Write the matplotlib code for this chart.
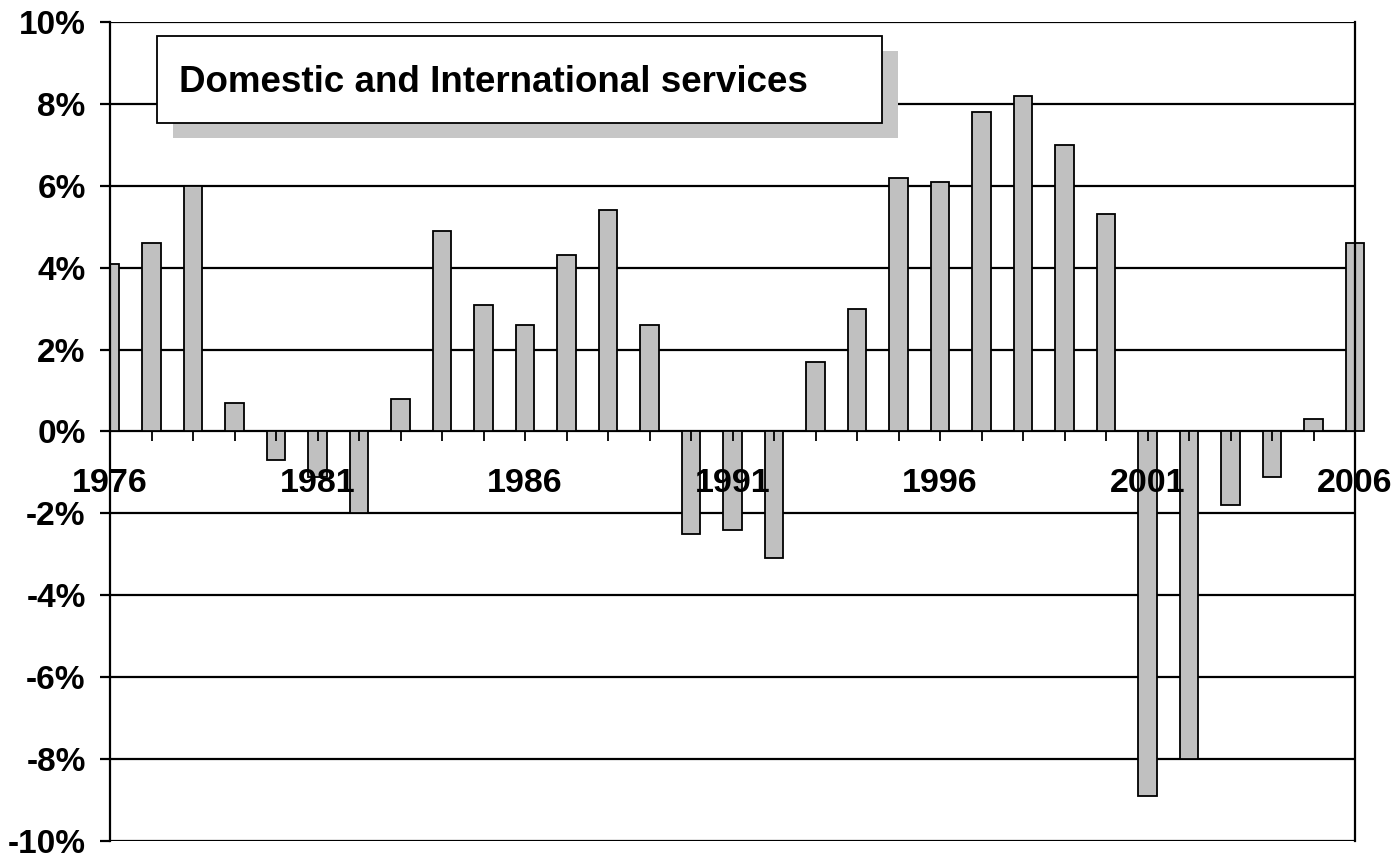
import numpy as np
import matplotlib
matplotlib.use("Agg")
import matplotlib.pyplot as plt
from matplotlib.patches import Rectangle
from matplotlib.ticker import MultipleLocator, FixedLocator, FuncFormatter

# annual growth, %
years = list(range(1976, 2007))
growth = [4.1, 4.6, 6.0, 0.7, -0.7, -1.1, -2.0, 0.8, 4.9, 3.1,
          2.6, 4.3, 5.4, 2.6, -2.5, -2.4, -3.1, 1.7, 3.0, 6.2,
          6.1, 7.8, 8.2, 7.0, 5.3, -8.9, -8.0, -1.8, -1.1, 0.3,
          4.6]
label_years = years[::5]
title = "Domestic and International services"

plt.rcParams['font.family'] = ['Liberation Sans', 'DejaVu Sans']
plt.rcParams['font.weight'] = 'bold'

fig = plt.figure(figsize=(13.95, 8.58), dpi=100)
ax = fig.add_axes([110/1395, 1-841/858, 1245/1395, 819/858])

ax.set_xlim(years[0], years[-1])
ax.set_ylim(-10, 10)

# gridlines behind the bars
for v in np.arange(-10, 11, 2):
    ax.axhline(v, color='black', lw=1.6, zorder=0)

bars = ax.bar(years, growth, width=0.44, color='#c0c0c0',
              edgecolor='black', linewidth=1.3, zorder=1)
bars[-1].set_clip_on(False)

# axis at zero with the year labels
ax.spines['top'].set_visible(False)
ax.spines['bottom'].set_position(('data', 0))
ax.spines['bottom'].set_visible(False)
for s in ['left', 'right']:
    ax.spines[s].set_linewidth(1.6)

ax.xaxis.set_major_locator(FixedLocator(label_years))
ax.xaxis.set_minor_locator(MultipleLocator(1))
ax.xaxis.set_major_formatter(FuncFormatter(lambda v, p: f"{int(round(v))}"))
ax.tick_params(axis='x', which='both', direction='out', length=7.5, width=1.3,
               labelsize=24.5, pad=19)
ax.yaxis.set_major_locator(MultipleLocator(2))
ax.yaxis.set_major_formatter(FuncFormatter(lambda v, p: f"{int(round(v))}%"))
ax.tick_params(axis='y', direction='out', length=7.5, width=1.6,
               labelsize=24, pad=10)
ax.set_axisbelow(False)

# title box with shadow
shadow = Rectangle((173/1395, 1-138/858), 725/1395, 87/858,
                   transform=fig.transFigure, facecolor='#c6c6c6',
                   edgecolor='none', zorder=5)
box = Rectangle((157/1395, 1-123/858), 725/1395, 87/858,
                transform=fig.transFigure, facecolor='white',
                edgecolor='black', linewidth=1.3, zorder=6)
fig.add_artist(shadow)
fig.add_artist(box)
fig.text(179/1395, 1-92/858, title, fontsize=26.5, fontweight='bold',
         ha='left', va='baseline', zorder=7)

fig.savefig("out.png", dpi=100)
